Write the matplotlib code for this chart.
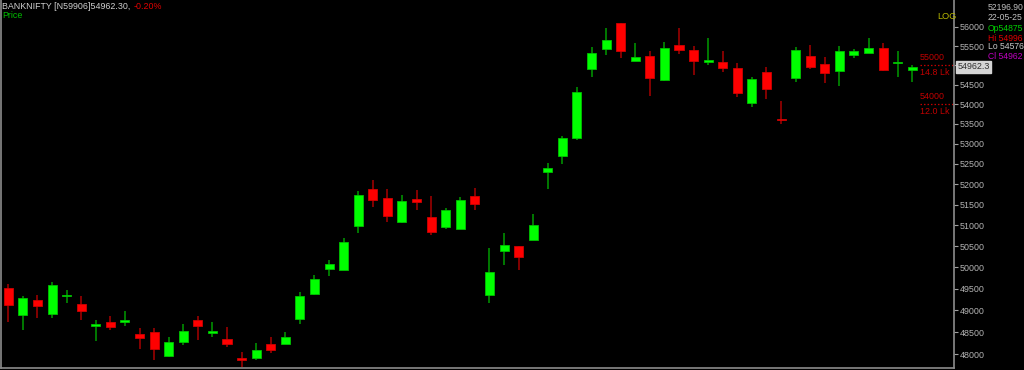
import matplotlib
matplotlib.use("Agg")
import matplotlib.pyplot as plt
import matplotlib.transforms as mtransforms
from matplotlib.ticker import FixedLocator, FixedFormatter, NullLocator

plt.rcParams['font.family'] = ['Liberation Sans', 'DejaVu Sans']

# ---- data (BANKNIFTY daily candles) ----
opens = [49510, 48897, 49237, 48913, 49323, 49144, 48638, 48723, 48737, 48455,
         48500, 47955, 48266, 48776, 48477, 48334, 47903, 47910, 48234, 48234,
         48805, 49377, 49955, 49939, 50993, 51890, 51663, 51081, 51632, 51202,
         50969, 50921, 51724, 49351, 50389, 50507, 50651, 52308, 52696, 53154,
         54902, 55422, 56097, 55117, 55248, 54626, 55534, 55388, 55091, 55075,
         54935, 54020, 54812, 53623, 54662, 55248, 55023, 54858, 55274, 55326,
         55456, 55057, 54875]
highs = [49610, 49330, 49353, 49657, 49470, 49330, 48776, 48874, 48982, 48592,
         48592, 48393, 48677, 48867, 48737, 48622, 48053, 48243, 48393, 48507,
         49423, 49821, 50175, 50699, 51827, 52096, 51890, 51744, 51858, 51712,
         51427, 51680, 51907, 50453, 50811, 50510, 51268, 52515, 53196, 54431,
         55482, 55982, 56100, 55579, 55370, 55597, 55982, 55500, 55719, 55362,
         55049, 54703, 54954, 54087, 55482, 55526, 55222, 55500, 55430, 55719,
         55587, 55370, 54996]
lows = [48740, 48547, 48828, 48828, 49174, 48782, 48302, 48547, 48645, 48107,
        47865, 47940, 48212, 48318, 48380, 48152, 47714, 47865, 48027, 48228,
        48677, 49346, 49798, 49930, 50826, 51452, 51081, 51065, 51372, 50763,
        50921, 50907, 51372, 49174, 50050, 49939, 50645, 51876, 52497, 53088,
        54703, 55265, 55196, 55110, 54208, 54600, 55292, 54747, 55005, 54825,
        54189, 53934, 54125, 53490, 54575, 54902, 54533, 54472, 55188, 55320,
        54843, 54703, 54576]
closes = [49120, 49283, 49104, 49586, 49353, 48989, 48684, 48615, 48776, 48357,
          48114, 48273, 48517, 48638, 48517, 48234, 47865, 48085, 48085, 48380,
          49330, 49727, 50080, 50610, 51729, 51614, 51219, 51597, 51566, 50842,
          51364, 51614, 51517, 49887, 50524, 50246, 51016, 52392, 53139, 54303,
          55318, 55650, 55378, 55214, 54678, 55440, 55404, 55101, 55135, 54928,
          54277, 54636, 54380, 53598, 55388, 54946, 54799, 55370, 55370, 55440,
          54884, 55091, 54962]

y_ticks = list(range(48000, 56001, 500))
hidden_tick = 55000  # covered by the last-price box in the original
oi_levels = [55000, 54000]
oi_labels = ["14.8 Lk", "12.0 Lk"]
last_price = 54962.30
header_main = "BANKNIFTY [N59906]54962.30,"
header_chg = "-0.20%"
info_lines = ["52196.90", "22-05-25", "Op54875", "Hi 54996", "Lo 54576", "Cl 54962"]
info_colors = ["#c0c0c0", "#c0c0c0", "#00d000", "#e00000", "#c8c8c8", "#c000c0"]

W, H = 1024, 370
fig = plt.figure(figsize=(W / 100, H / 100), dpi=100, facecolor="black")
ax = fig.add_axes([1 / W, 2 / H, 953 / W, 368 / H])
ax.set_facecolor("black")

n = len(opens)
xs = list(range(n))
up_body, dn_body = "#00ff00", "#ff0000"
up_wick, dn_wick = "#009a00", "#a80000"
up_edge, dn_edge = "#00c000", "#d00000"
bw = 0.62
for i in xs:
    o, h, l, c = opens[i], highs[i], lows[i], closes[i]
    up = c >= o
    ax.vlines(i, l, h, color=up_wick if up else dn_wick, lw=1.1, zorder=2)
    lo_b, hi_b = min(o, c), max(o, c)
    if hi_b - lo_b < 35:
        mid = (hi_b + lo_b) / 2
        lo_b, hi_b = mid - 18, mid + 18
    ax.bar(i, hi_b - lo_b, bottom=lo_b, width=bw,
           color=up_body if up else dn_body,
           edgecolor=up_edge if up else dn_edge, lw=0.6, zorder=3)

ax.set_yscale("log")
ax.set_ylim(47685, 56717)
ax.set_xlim(-0.5, 64.86)
ax.yaxis.set_major_locator(FixedLocator(y_ticks))
ax.yaxis.set_major_formatter(FixedFormatter(
    ["" if t == hidden_tick else str(t) for t in y_ticks]))
ax.yaxis.set_minor_locator(NullLocator())
ax.yaxis.tick_right()
ax.tick_params(axis="y", which="major", colors="#a0a0a0", labelcolor="#b4b4b4",
               length=3, width=0.8, pad=1, labelsize=6.4, direction="out")
ax.tick_params(axis="y", which="minor", length=0)
ax.set_xticks([])
ax.spines["top"].set_visible(False)
for s in ["right", "bottom", "left"]:
    ax.spines[s].set_color("#8c8c8c")
    ax.spines[s].set_linewidth(1.2)

# OI levels (dotted) with labels
trans = mtransforms.blended_transform_factory(ax.transAxes, ax.transData)
x0 = (920 - 1) / 953
for lvl, lab in zip(oi_levels, oi_labels):
    ax.plot([x0, 1.0], [lvl, lvl], transform=trans, color="#c00000",
            lw=0.9, ls=(0, (1.2, 1.6)), zorder=1, clip_on=False)
    ax.annotate(str(lvl), xy=(x0, lvl), xycoords=trans, xytext=(0, 2.5),
                textcoords="offset points", color="#c00000", fontsize=6.4,
                ha="left", va="bottom")
    ax.annotate(lab, xy=(x0, lvl), xycoords=trans, xytext=(0, -2),
                textcoords="offset points", color="#c00000", fontsize=6.4,
                ha="left", va="top")

# Last price box
ax.text(1.0 + 3.5 / 953, last_price, f"{last_price:.1f}", transform=trans,
        color="#303030", fontsize=6.4, ha="left", va="center", clip_on=False,
        zorder=10,
        bbox=dict(boxstyle="square,pad=0.15", fc="#d4d4d4", ec="#d4d4d4"))

# Header
t_main = fig.text(2 / W, 1 - 6.3 / H, header_main, color="#d0d0d0",
                  fontsize=6.4, ha="left", va="center")
fig.canvas.draw()
bb = t_main.get_window_extent(renderer=fig.canvas.get_renderer())
fig.text((bb.x1 + 3) / W, 1 - 6.3 / H, header_chg, color="#e00000",
         fontsize=6.4, ha="left", va="center")
fig.text(2 / W, 1 - 16 / H, "Price", color="#00c000", fontsize=6.4,
         ha="left", va="center")
fig.text(937 / W, 1 - 16.5 / H, "LOG", color="#b8b800", fontsize=6.6,
         ha="left", va="center")

info_y = [7, 17.7, 28.3, 38.3, 46.7, 56.7]
for txt, col, yy in zip(info_lines, info_colors, info_y):
    fig.text(988 / W, 1 - yy / H, txt, color=col, fontsize=6.2,
             ha="left", va="center")

fig.savefig("out.png", dpi=100, facecolor="black")
